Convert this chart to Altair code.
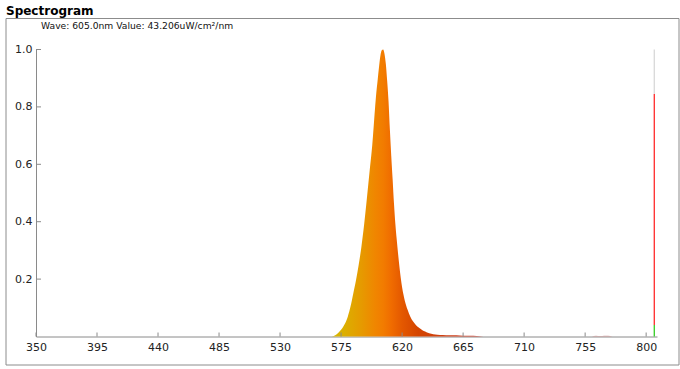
import altair as alt
import pandas as pd

# ---------------- data ----------------
title_text = "Spectrogram"
info_text = "Wave: 605.0nm Value: 43.206uW/cm²/nm"

x_ticks = [350, 395, 440, 485, 530, 575, 620, 665, 710, 755, 800]
y_ticks = [0.2, 0.4, 0.6, 0.8, 1.0]

wavelengths = [568, 570, 572, 574, 576, 578, 580, 582, 584, 586, 588, 590, 592, 594,
               596, 598, 600, 601, 602, 603, 604, 605, 606, 607, 608, 609, 610, 611,
               612, 613, 614, 615, 616, 617, 618, 619, 620, 621, 622, 624, 626, 628,
               630, 632, 634, 636, 638, 640, 643, 646, 650, 655, 660, 665, 670, 675, 680]
intensities = [0.0, 0.003, 0.009, 0.018, 0.03, 0.046, 0.07, 0.105, 0.15, 0.196, 0.25,
               0.313, 0.39, 0.48, 0.574, 0.667, 0.793, 0.85, 0.895, 0.94, 0.978, 0.997,
               1.0, 0.985, 0.95, 0.89, 0.82, 0.72, 0.63, 0.55, 0.465, 0.395, 0.34, 0.29,
               0.245, 0.205, 0.172, 0.146, 0.125, 0.094, 0.07, 0.053, 0.041, 0.032,
               0.025, 0.019, 0.015, 0.011, 0.008, 0.006, 0.005, 0.004, 0.004, 0.003,
               0.003, 0.002, 0.0]

tail_waves = [760, 763, 766, 769, 772, 775]
tail_values = [0.0, 0.003, 0.002, 0.003, 0.003, 0.0]

# colour stops of the wavelength gradient
grad_waves = [568, 578, 590, 600, 606, 612, 620, 632, 680]
grad_colors = ["#d6b800", "#dcae00", "#e69a00", "#f08600", "#f27c00",
               "#f06c00", "#e45800", "#d44400", "#c83a30"]

marker_wave = 806
marker_lo = [0.0, 0.04, 0.845]
marker_hi = [0.04, 0.845, 1.0]
marker_seg = ["low", "mid", "top"]
marker_colors = ["#33cc22", "#ff2a2a", "#d8d8d8"]

# ---------------- layout ----------------
W, H = 621, 287
X_MIN, X_MAX = 350, 808

spec_df = pd.DataFrame({"wl": wavelengths, "v": intensities})
tail_df = pd.DataFrame({"wl": tail_waves, "v": tail_values})
xt_df = pd.DataFrame({"t": x_ticks})
yt_df = pd.DataFrame({"t": y_ticks})
mk_df = pd.DataFrame({"wl": [marker_wave] * 3, "lo": marker_lo, "hi": marker_hi,
                      "seg": marker_seg})
one = pd.DataFrame({"k": [0]})

xs = alt.Scale(domain=[X_MIN, X_MAX], nice=False, zero=False)
ys = alt.Scale(domain=[0, 1], nice=False, zero=False)

AX = "#8a8a8a"
LBL = "#222222"
FONT = "DejaVu Sans"

wl0, wl1 = min(wavelengths), max(wavelengths)
stops = [alt.GradientStop(color=c, offset=(w - wl0) / (wl1 - wl0))
         for w, c in zip(grad_waves, grad_colors)]

spectrum = alt.Chart(spec_df).mark_area(
    interpolate="monotone",
    color=alt.Gradient(gradient="linear", stops=stops, x1=0, x2=1, y1=0, y2=0),
).encode(
    x=alt.X("wl:Q", scale=xs,
            axis=alt.Axis(values=x_ticks, ticks=False, grid=False, title=None,
                          domainColor=AX, labelColor=LBL, labelFont=FONT,
                          labelFontSize=11, labelPadding=5, labelFlush=False,
                          labelOverlap=False)),
    y=alt.Y("v:Q", scale=ys,
            axis=alt.Axis(values=y_ticks, ticks=False, grid=False, title=None,
                          domainColor=AX, labelColor=LBL, labelFont=FONT,
                          labelFontSize=11, labelPadding=4, format=".1f",
                          labelOverlap=False)),
)

tail = alt.Chart(tail_df).mark_area(interpolate="monotone", color="#c98a8a",
                                    opacity=0.8).encode(x="wl:Q", y="v:Q")

xticks = alt.Chart(xt_df).mark_rule(color=AX, strokeWidth=1).encode(
    x="t:Q", y=alt.value(H), y2=alt.value(H - 4))
yticks = alt.Chart(yt_df).mark_rule(color=AX, strokeWidth=1).encode(
    y="t:Q", x=alt.value(0), x2=alt.value(5))

marker = alt.Chart(mk_df).mark_rule(strokeWidth=1.3).encode(
    x="wl:Q", y="lo:Q", y2="hi:Q",
    color=alt.Color("seg:N", scale=alt.Scale(domain=marker_seg, range=marker_colors),
                    legend=None))

frame = alt.Chart(one).mark_rect(fill=None, stroke="#8c8c8c", strokeWidth=1).encode(
    x=alt.value(-30), x2=alt.value(643), y=alt.value(-31), y2=alt.value(315.5))

title = alt.Chart(one).mark_text(text=title_text, font=FONT, fontSize=12,
                                 fontWeight="bold", align="left", baseline="alphabetic",
                                 color="#000000").encode(x=alt.value(-30), y=alt.value(-35))
info = alt.Chart(one).mark_text(text=info_text, font=FONT, fontSize=9.2, align="left",
                                baseline="alphabetic", color="#111111").encode(
    x=alt.value(5), y=alt.value(-21))

chart = alt.layer(frame, spectrum, tail, marker, xticks, yticks, title, info).properties(
    width=W, height=H,
    background="#ffffff",
    autosize=alt.AutoSizeParams(type="none"),
    padding={"left": 36, "top": 49.5, "right": 23, "bottom": 32.5},
).configure_view(stroke=None)

chart.save("out.html", embed_options={"renderer": "svg", "actions": False})
